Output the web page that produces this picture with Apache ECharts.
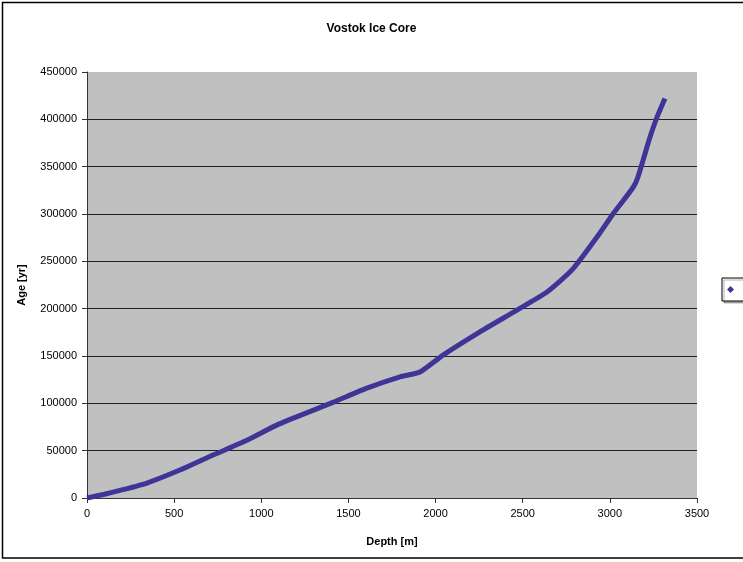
<!DOCTYPE html>
<html>
<head>
<meta charset="utf-8">
<script src="https://cdn.jsdelivr.net/npm/echarts@6/dist/echarts.min.js"></script>
<style>html,body{margin:0;padding:0;background:#fff;}#c{width:743px;height:562px;}</style>
</head>
<body>
<div id="c"></div>
<script>
const depth = [0, 100, 200, 344, 533, 723, 918, 1100, 1411, 1606, 1796, 1910, 2043, 2250, 2467, 2639, 2788, 2943, 3018, 3133, 3161, 3230, 3270, 3316];
const age = [0, 4000, 8500, 15800, 29500, 45400, 61000, 78000, 101000, 116000, 128000, 133000, 151000, 175000, 198500, 217500, 242000, 280000, 300000, 328000, 339000, 381000, 402000, 422000];
const titleText = 'Vostok Ice Core';
const xName = 'Depth [m]';
const yName = 'Age [yr]';
const seriesName = 'Series1';

const chart = echarts.init(document.getElementById('c'), null, {renderer: 'canvas'});
const font = 'Liberation Sans, Arial, sans-serif';
chart.setOption({
  animation: false,
  textStyle: {fontFamily: font},
  title: {text: titleText, left: 'center', top: 18,
    textStyle: {fontSize: 12, fontWeight: 'bold', color: '#000', fontFamily: font}},
  graphic: [{type: 'rect', shape: {x: 2.5, y: 2.5, width: 800, height: 555.5},
    style: {fill: null, stroke: '#000', lineWidth: 1.5}, z: -1, silent: true}],
  legend: {show: true, left: 722, top: 278, orient: 'vertical', padding: [6, 6, 6, 5],
    borderColor: '#000', borderWidth: 1, backgroundColor: '#fff',
    shadowColor: 'rgba(0,0,0,0.3)', shadowOffsetX: 2, shadowOffsetY: 2,
    itemWidth: 7, itemHeight: 7, icon: 'diamond',
    textStyle: {fontSize: 11, color: '#000', padding: [0, 0, 0, 20]},
    data: [{name: seriesName, icon: 'diamond', itemStyle: {color: '#3F3597'}}]},
  grid: {left: 87, right: 46, top: 72, bottom: 64, show: true, backgroundColor: '#C0C0C0', borderWidth: 0},
  xAxis: {type: 'value', min: 0, max: 3500, interval: 500,
    name: xName, nameLocation: 'middle', nameGap: 38,
    nameTextStyle: {fontSize: 11, fontWeight: 'bold', color: '#000'},
    axisLine: {lineStyle: {color: '#333', width: 1}},
    axisTick: {show: true, inside: false, length: 5, lineStyle: {color: '#333'}},
    axisLabel: {fontSize: 11, color: '#000', margin: 10, formatter: v => String(v)},
    splitLine: {show: false}},
  yAxis: {type: 'value', min: 0, max: 450000, interval: 50000,
    name: yName, nameLocation: 'middle', nameGap: 60,
    nameTextStyle: {fontSize: 11, fontWeight: 'bold', color: '#000'},
    axisLine: {show: true, lineStyle: {color: '#333', width: 1}},
    axisTick: {show: true, inside: false, length: 5, lineStyle: {color: '#333'}},
    axisLabel: {fontSize: 11, color: '#000', margin: 10, formatter: v => String(v)},
    splitLine: {show: true, showMinLine: false, showMaxLine: false, lineStyle: {color: '#222', width: 1}}},
  series: [{name: seriesName, type: 'line', data: depth.map((d, i) => [d, age[i]]),
    smooth: 0.2, showSymbol: false, symbol: 'diamond',
    lineStyle: {color: '#3F3597', width: 5}, itemStyle: {color: '#3F3597'}}]
});
</script>
</body>
</html>
